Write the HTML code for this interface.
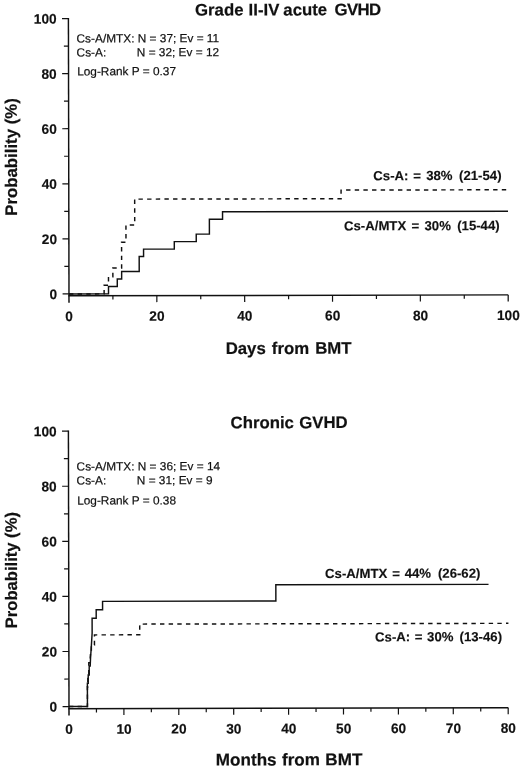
<!DOCTYPE html>
<html lang="en">
<head>
<meta charset="utf-8">
<title>GVHD probability</title>
<style>
html,body{margin:0;padding:0;background:#fff;}
body{width:520px;height:769px;overflow:hidden;}
svg{display:block;}
text{font-family:"Liberation Sans",sans-serif;fill:#111;}
.big{font-size:16.8px;font-weight:bold;stroke:#111;stroke-width:0.2px;}
.tl{font-size:13.7px;font-weight:bold;stroke:#111;stroke-width:0.15px;}
.an{font-size:13.2px;font-weight:bold;stroke:#111;stroke-width:0.15px;}
.sm{font-size:11.85px;stroke:#111;stroke-width:0.2px;}
.ax{stroke:#111;stroke-width:1.45;fill:none;}
.tk{stroke:#111;stroke-width:1.2;fill:none;}
.cs{stroke:#111;stroke-width:1.45;fill:none;stroke-linejoin:miter;}
.cd{stroke:#111;stroke-width:1.45;fill:none;stroke-dasharray:4.4 4.25;}
</style>
</head>
<body>
<svg width="520" height="769" viewBox="0 0 520 769">
<rect x="0" y="0" width="520" height="769" fill="#fff"/>
<g transform="rotate(-0.12 288 156)">
<line x1="68.7" y1="17.5" x2="68.7" y2="302.25" class="ax"/>
<line x1="62.3" y1="293.5" x2="68.7" y2="293.5" class="tk"/>
<text x="56.9" y="298.5" class="tl" text-anchor="end">0</text>
<line x1="64.1" y1="265.96" x2="68.7" y2="265.96" class="tk"/>
<line x1="62.3" y1="238.42" x2="68.7" y2="238.42" class="tk"/>
<text x="56.9" y="243.42" class="tl" text-anchor="end">20</text>
<line x1="64.1" y1="210.88" x2="68.7" y2="210.88" class="tk"/>
<line x1="62.3" y1="183.34" x2="68.7" y2="183.34" class="tk"/>
<text x="56.9" y="188.34" class="tl" text-anchor="end">40</text>
<line x1="64.1" y1="155.8" x2="68.7" y2="155.8" class="tk"/>
<line x1="62.3" y1="128.26" x2="68.7" y2="128.26" class="tk"/>
<text x="56.9" y="133.26" class="tl" text-anchor="end">60</text>
<line x1="64.1" y1="100.72" x2="68.7" y2="100.72" class="tk"/>
<line x1="62.3" y1="73.18" x2="68.7" y2="73.18" class="tk"/>
<text x="56.9" y="78.18" class="tl" text-anchor="end">80</text>
<line x1="64.1" y1="45.64" x2="68.7" y2="45.64" class="tk"/>
<line x1="62.3" y1="18.1" x2="68.7" y2="18.1" class="tk"/>
<text x="56.9" y="23.1" class="tl" text-anchor="end">100</text>
<line x1="68.1" y1="295.35" x2="508" y2="295.35" class="ax"/>
<text x="68.8" y="320.45" class="tl" text-anchor="middle">0</text>
<line x1="112.62" y1="295.35" x2="112.62" y2="299.15" class="tk"/>
<line x1="156.54" y1="295.35" x2="156.54" y2="301.85" class="tk"/>
<text x="156.64" y="320.45" class="tl" text-anchor="middle">20</text>
<line x1="200.46" y1="295.35" x2="200.46" y2="299.15" class="tk"/>
<line x1="244.38" y1="295.35" x2="244.38" y2="301.85" class="tk"/>
<text x="244.48" y="320.45" class="tl" text-anchor="middle">40</text>
<line x1="288.3" y1="295.35" x2="288.3" y2="299.15" class="tk"/>
<line x1="332.22" y1="295.35" x2="332.22" y2="301.85" class="tk"/>
<text x="332.32" y="320.45" class="tl" text-anchor="middle">60</text>
<line x1="376.14" y1="295.35" x2="376.14" y2="299.15" class="tk"/>
<line x1="420.06" y1="295.35" x2="420.06" y2="301.85" class="tk"/>
<text x="420.16" y="320.45" class="tl" text-anchor="middle">80</text>
<line x1="463.98" y1="295.35" x2="463.98" y2="299.15" class="tk"/>
<line x1="507.9" y1="295.35" x2="507.9" y2="301.85" class="tk"/>
<text x="508" y="320.45" class="tl" text-anchor="middle">100</text>
<text transform="translate(16.9 156.4) rotate(-90)" class="big" style="font-size:16.8px" text-anchor="middle">Probability (%)</text>
<path d="M68.7 293.5 L103.84 293.5 L103.84 284.89 L108.23 284.89 L108.23 276.29 L112.62 276.29 L112.62 267.68 L121.4 267.68 L121.4 241.86 L125.8 241.86 L125.8 224.65 L134.58 224.65 L134.58 198.83 L341 198.83 L341 190.22 L507.9 190.22" class="cd"/>
<path d="M68.7 293.5 L108.23 293.5 L108.23 286.06 L117.01 286.06 L117.01 278.61 L121.4 278.61 L121.4 271.17 L138.97 271.17 L138.97 256.28 L143.36 256.28 L143.36 248.84 L174.11 248.84 L174.11 241.4 L196.07 241.4 L196.07 233.95 L209.24 233.95 L209.24 219.07 L222.42 219.07 L222.42 211.62 L507.9 211.62" class="cs"/>
<text y="15.4" class="big"><tspan x="195.3">Grade</tspan> <tspan x="248.9">II-IV</tspan> <tspan x="283.6">acute</tspan> <tspan x="334.7" style="letter-spacing:-0.55px">GVHD</tspan></text>
<text x="288.2" y="353.9" class="big" text-anchor="middle" style="word-spacing:1.4px">Days from BMT</text>
<text x="76.8" y="42.1" class="sm">Cs-A/MTX: N = 37; Ev = 11</text>
<text x="76.8" y="56.1" class="sm">Cs-A:</text><text x="137" y="56.1" class="sm">N = 32; Ev = 12</text>
<text x="77.3" y="75" class="sm">Log-Rank P = 0.37</text>
<text y="180.4" class="an"><tspan x="373.3">Cs-A:</tspan> <tspan x="413.2">=</tspan> <tspan x="426.1">38%</tspan> <tspan x="459">(21-54)</tspan></text>
<text y="230.5" class="an"><tspan x="343.8">Cs-A/MTX</tspan> <tspan x="411.3">=</tspan> <tspan x="424.35">30%</tspan> <tspan x="457">(15-44)</tspan></text>
</g>
<g transform="rotate(-0.12 288 569)">
<line x1="68.7" y1="430.1" x2="68.7" y2="715.1" class="ax"/>
<line x1="62.3" y1="706.1" x2="68.7" y2="706.1" class="tk"/>
<text x="56.9" y="711.1" class="tl" text-anchor="end">0</text>
<line x1="64.1" y1="678.56" x2="68.7" y2="678.56" class="tk"/>
<line x1="62.3" y1="651.02" x2="68.7" y2="651.02" class="tk"/>
<text x="56.9" y="656.02" class="tl" text-anchor="end">20</text>
<line x1="64.1" y1="623.48" x2="68.7" y2="623.48" class="tk"/>
<line x1="62.3" y1="595.94" x2="68.7" y2="595.94" class="tk"/>
<text x="56.9" y="600.94" class="tl" text-anchor="end">40</text>
<line x1="64.1" y1="568.4" x2="68.7" y2="568.4" class="tk"/>
<line x1="62.3" y1="540.86" x2="68.7" y2="540.86" class="tk"/>
<text x="56.9" y="545.86" class="tl" text-anchor="end">60</text>
<line x1="64.1" y1="513.32" x2="68.7" y2="513.32" class="tk"/>
<line x1="62.3" y1="485.78" x2="68.7" y2="485.78" class="tk"/>
<text x="56.9" y="490.78" class="tl" text-anchor="end">80</text>
<line x1="64.1" y1="458.24" x2="68.7" y2="458.24" class="tk"/>
<line x1="62.3" y1="430.7" x2="68.7" y2="430.7" class="tk"/>
<text x="56.9" y="435.7" class="tl" text-anchor="end">100</text>
<line x1="68.1" y1="708.2" x2="508" y2="708.2" class="ax"/>
<text x="68.8" y="733.3" class="tl" text-anchor="middle">0</text>
<line x1="96.15" y1="708.2" x2="96.15" y2="712" class="tk"/>
<line x1="123.6" y1="708.2" x2="123.6" y2="714.7" class="tk"/>
<text x="123.7" y="733.3" class="tl" text-anchor="middle">10</text>
<line x1="151.05" y1="708.2" x2="151.05" y2="712" class="tk"/>
<line x1="178.5" y1="708.2" x2="178.5" y2="714.7" class="tk"/>
<text x="178.6" y="733.3" class="tl" text-anchor="middle">20</text>
<line x1="205.95" y1="708.2" x2="205.95" y2="712" class="tk"/>
<line x1="233.4" y1="708.2" x2="233.4" y2="714.7" class="tk"/>
<text x="233.5" y="733.3" class="tl" text-anchor="middle">30</text>
<line x1="260.85" y1="708.2" x2="260.85" y2="712" class="tk"/>
<line x1="288.3" y1="708.2" x2="288.3" y2="714.7" class="tk"/>
<text x="288.4" y="733.3" class="tl" text-anchor="middle">40</text>
<line x1="315.75" y1="708.2" x2="315.75" y2="712" class="tk"/>
<line x1="343.2" y1="708.2" x2="343.2" y2="714.7" class="tk"/>
<text x="343.3" y="733.3" class="tl" text-anchor="middle">50</text>
<line x1="370.65" y1="708.2" x2="370.65" y2="712" class="tk"/>
<line x1="398.1" y1="708.2" x2="398.1" y2="714.7" class="tk"/>
<text x="398.2" y="733.3" class="tl" text-anchor="middle">60</text>
<line x1="425.55" y1="708.2" x2="425.55" y2="712" class="tk"/>
<line x1="453" y1="708.2" x2="453" y2="714.7" class="tk"/>
<text x="453.1" y="733.3" class="tl" text-anchor="middle">70</text>
<line x1="480.45" y1="708.2" x2="480.45" y2="712" class="tk"/>
<line x1="507.9" y1="708.2" x2="507.9" y2="714.7" class="tk"/>
<text x="508" y="733.3" class="tl" text-anchor="middle">80</text>
<text transform="translate(16.9 569.6) rotate(-90)" class="big" style="font-size:16.6px" text-anchor="middle">Probability (%)</text>
<path d="M68.7 706.1 L87.15 706.1 L87.15 686.4 L87.6 686.4 L87.6 674.6 L88.6 674.6 L88.6 662.4 L89.8 662.4 L90.3 653.6 L91.2 653.6 L91.2 644.6 L94.3 644.6 L94.3 634.5 L139.6 634.5 L139.6 623.8 L508.3 623.8" class="cd"/>
<path d="M68.7 706.1 L87.15 706.1 L87.15 682.9 L88 682.9 L88 674.6 L89 674.6 L89 665.6 L90 665.6 L90.4 656.6 L91 648.6 L91.5 640.6 L92 632.6 L92 617.9 L96.1 617.9 L96.1 609.35 L102.5 609.35 L102.5 601 L275.8 601 L275.8 584.8 L488.5 584.8" class="cs"/>
<text x="289.4" y="428.2" class="big" text-anchor="middle" style="word-spacing:0.6px">Chronic GVHD</text>
<text x="288.7" y="765.4" class="big" text-anchor="middle" style="font-size:17.1px;word-spacing:0.6px">Months from BMT</text>
<text x="76.8" y="470.1" class="sm">Cs-A/MTX: N = 36; Ev = 14</text>
<text x="76.8" y="484.1" class="sm">Cs-A:</text><text x="137" y="484.1" class="sm">N = 31; Ev = 9</text>
<text x="77.3" y="504.2" class="sm">Log-Rank P = 0.38</text>
<text y="578.1" class="an"><tspan x="325">Cs-A/MTX</tspan> <tspan x="392.2">=</tspan> <tspan x="404.7">44%</tspan> <tspan x="437.9">(26-62)</tspan></text>
<text y="641.6" class="an"><tspan x="374.9">Cs-A:</tspan> <tspan x="414.7">=</tspan> <tspan x="426.9">30%</tspan> <tspan x="459.4">(13-46)</tspan></text>
</g>
</svg>
</body>
</html>
